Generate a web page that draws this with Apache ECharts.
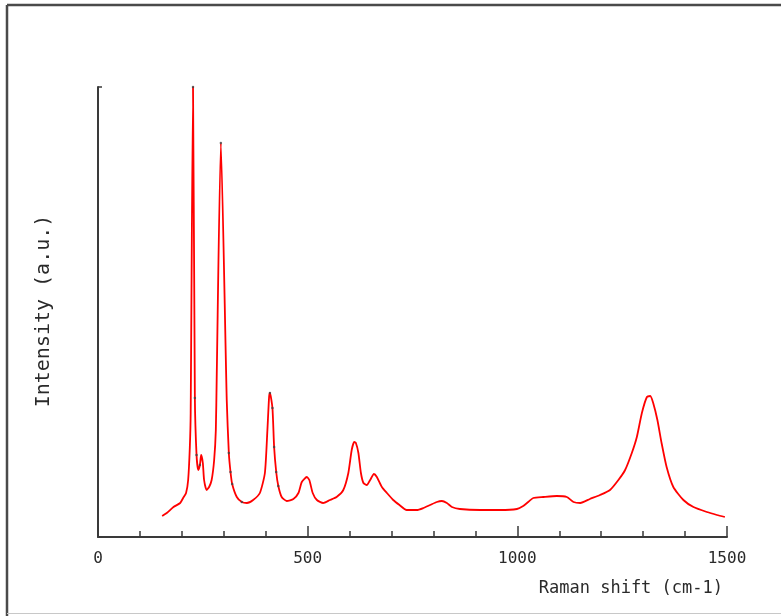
<!DOCTYPE html>
<html>
<head>
<meta charset="utf-8">
<script src="https://cdn.jsdelivr.net/npm/echarts@6/dist/echarts.min.js"></script>
<style>
  html, body { margin: 0; padding: 0; background: #fff; }
  #chart { width: 781px; height: 616px; }
</style>
</head>
<body>
<div id="chart"></div>
<script>
// Raman spectrum: shift (cm-1) and intensity (arbitrary units)
const ramanShift = [
  153, 164, 180, 196, 203, 210, 215, 219, 221, 226.6,
  231, 235, 239, 243, 246, 250, 253, 259, 265, 271,
  277, 281, 283, 293, 307, 312, 316, 320, 331, 343,
  355, 370, 386, 398, 404, 408, 410, 416, 420, 425,
  430, 438, 450, 466, 478, 486, 498, 504, 512, 522,
  537, 553, 569, 585, 597, 605, 611, 615, 621, 627,
  633, 641, 649, 658, 665, 677, 689, 704, 719, 736,
  760, 776, 792, 808, 820, 832, 844, 863, 911, 959,
  999, 1014, 1026, 1038, 1062, 1094, 1118, 1134, 1150, 1173,
  1197, 1221, 1241, 1257, 1273, 1285, 1297, 1309, 1317, 1324,
  1334, 1344, 1356, 1372, 1396, 1420, 1452, 1476, 1495
];
const intensity = [
  21, 24, 30, 34, 39, 44, 57, 90, 124, 450,
  139, 82, 67, 72, 82, 74, 57, 47, 50, 57,
  77, 107, 157, 394, 137, 84, 65, 53, 40, 35,
  34, 37, 44, 64, 107, 140, 144, 129, 90, 65,
  51, 40, 36, 38, 44, 55, 60, 57, 44, 37,
  34, 37, 40, 47, 64, 87, 95, 94, 84, 64,
  54, 52, 57, 63, 60, 50, 44, 37, 32, 27,
  27, 29, 32, 35, 36, 34, 30, 28, 27, 27,
  28, 31, 35, 39, 40, 41, 40, 35, 34, 38,
  42, 47, 57, 67, 84, 100, 124, 140, 141, 134,
  117, 94, 70, 50, 37, 30, 25, 22, 20
];
// positions (by index into the arrays above) that carry a small dot marker
const markedIdx = [9, 10, 11, 13, 23, 25, 26, 27, 29, 36, 37, 38, 39, 40];

const xTickLabels = ['0', '500', '1000', '1500'];
const xTitle = 'Raman shift (cm-1)';
const yTitle = 'Intensity (a.u.)';

const spectrum = ramanShift.map((x, i) => [x, intensity[i]]);
const dots = markedIdx.map(i => [ramanShift[i], intensity[i]]);

const mono = '"DejaVu Sans Mono", "Liberation Mono", monospace';
const axisColor = '#3a3a3a';

const chart = echarts.init(document.getElementById('chart'), null, { renderer: 'canvas' });
chart.setOption({
  backgroundColor: '#fff',
  animation: false,
  grid: { left: 98, right: 54, top: 87, bottom: 79, containLabel: false },
  xAxis: {
    type: 'value',
    min: 0,
    max: 1500,
    interval: 500,
    axisLine: { show: true, lineStyle: { color: axisColor, width: 2 } },
    axisTick: { show: true, inside: true, length: 11, lineStyle: { color: axisColor, width: 1.5 } },
    minorTick: { show: true, splitNumber: 5, length: 6, lineStyle: { color: axisColor, width: 1.5 } },
    axisLabel: {
      margin: 14,
      fontFamily: mono,
      fontSize: 16,
      color: '#2a2a2a',
      formatter: v => xTickLabels[Math.round(v / 500)]
    },
    splitLine: { show: false }
  },
  yAxis: {
    type: 'value',
    min: 0,
    max: 450,
    interval: 450,
    axisLine: { show: true, lineStyle: { color: axisColor, width: 2 } },
    axisTick: { show: true, inside: true, length: 4, lineStyle: { color: axisColor, width: 1.5 } },
    axisLabel: { show: false },
    splitLine: { show: false }
  },
  series: [
    {
      type: 'line',
      data: spectrum,
      showSymbol: false,
      smooth: 0.2,
      lineStyle: { color: '#ff0000', width: 1.8 },
      z: 2
    },
    {
      type: 'scatter',
      data: dots,
      symbolSize: 2.5,
      itemStyle: { color: '#444' },
      z: 3
    }
  ],
  graphic: [
    // frame around the plot area
    { type: 'line', shape: { x1: 7, y1: 5, x2: 781, y2: 5 }, style: { stroke: '#4a4a4a', lineWidth: 2.5 } },
    { type: 'line', shape: { x1: 7, y1: 5, x2: 7, y2: 616 }, style: { stroke: '#4a4a4a', lineWidth: 2.5 } },
    { type: 'line', shape: { x1: 7, y1: 613.5, x2: 781, y2: 613.5 }, style: { stroke: '#c8c8c8', lineWidth: 1 } },
    {
      type: 'text',
      right: 58,
      top: 580,
      style: { text: xTitle, font: '17px ' + mono, fill: '#2a2a2a' }
    },
    {
      type: 'text',
      x: 44,
      y: 311,
      rotation: Math.PI / 2,
      style: { text: yTitle, font: '20px ' + mono, fill: '#2a2a2a', textAlign: 'center', textVerticalAlign: 'middle' }
    }
  ]
});
</script>
</body>
</html>
